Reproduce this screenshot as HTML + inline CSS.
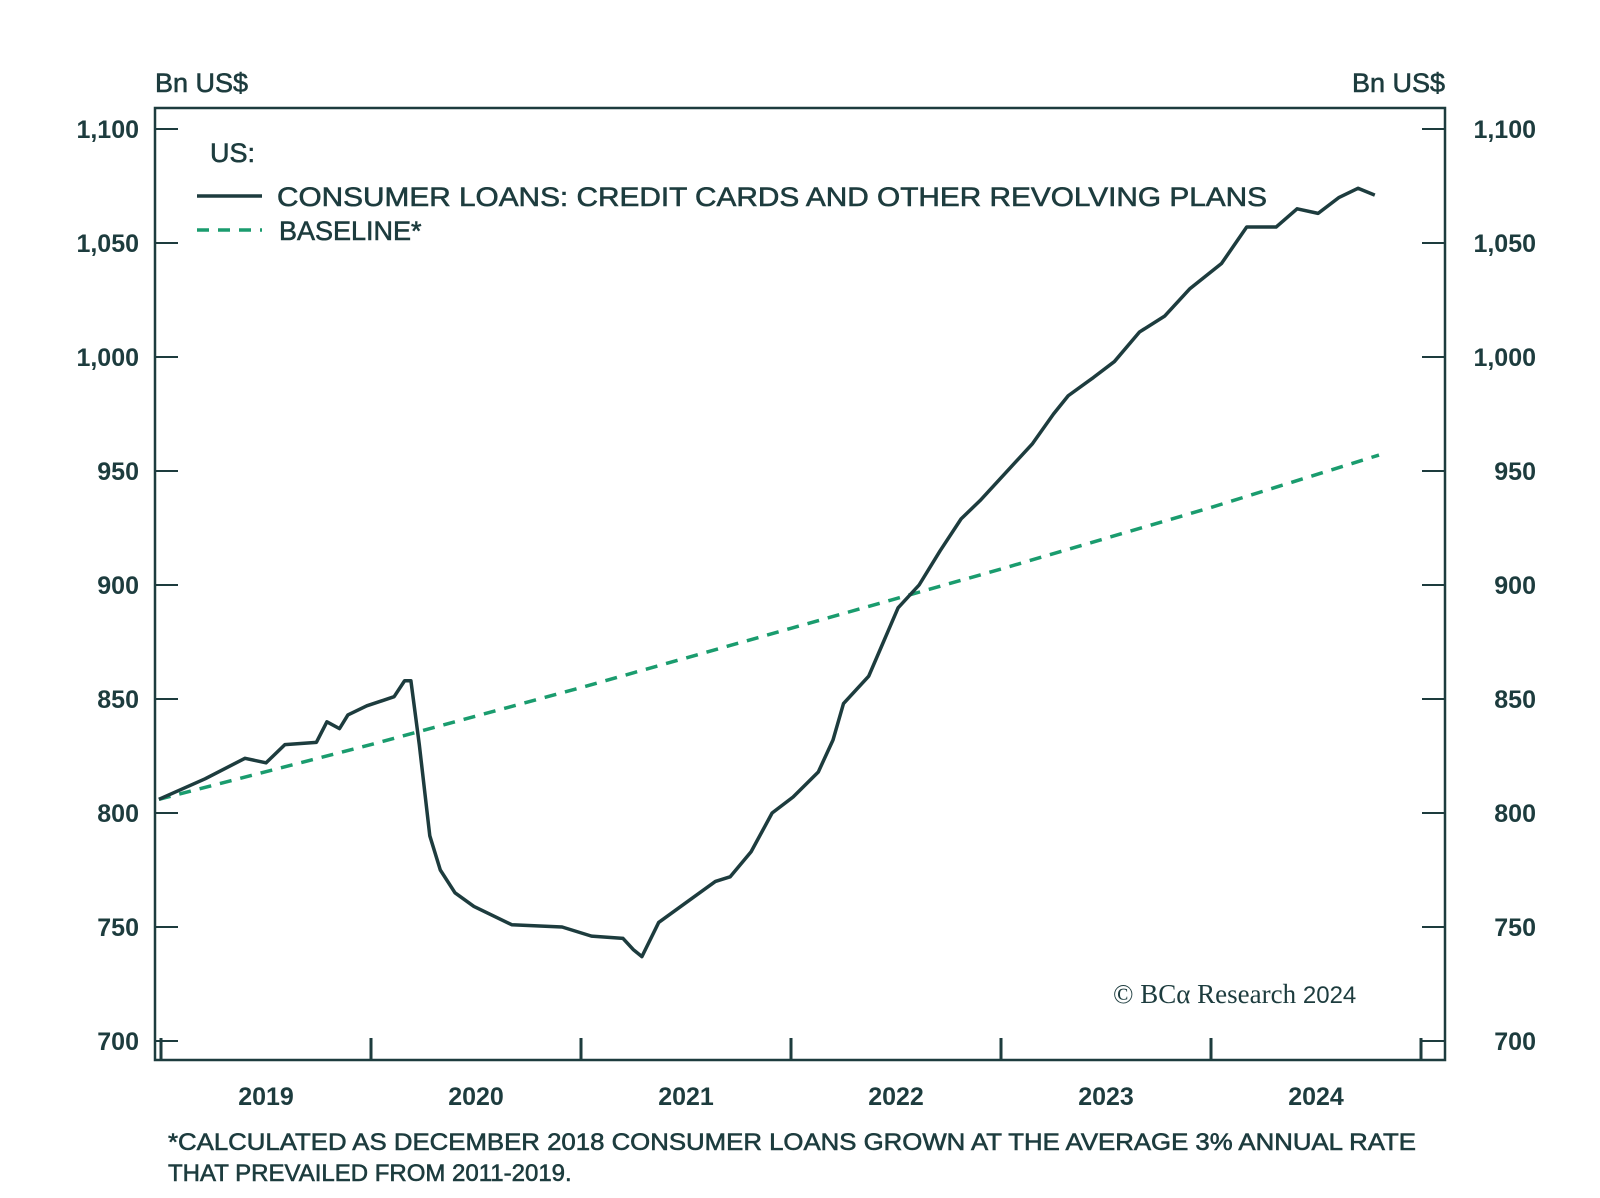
<!DOCTYPE html>
<html><head><meta charset="utf-8"><style>
html,body{margin:0;padding:0;background:#fff;}
svg{display:block;font-family:"Liberation Sans",sans-serif;}
.med{stroke:#1d3c3e;stroke-width:0.6;}
</style></head><body>
<svg id="chart" width="1600" height="1198" viewBox="0 0 1600 1198">
<g id="axes"></g>
<g id="series"></g>
<g>
<text class="med" x="210" y="162" font-size="27" fill="#1d3c3e">US:</text>
<line x1="197" y1="196" x2="262" y2="196" stroke="#1d3c3e" stroke-width="3.5"/>
<text class="med" x="277" y="206" font-size="27" fill="#1d3c3e" textLength="990" lengthAdjust="spacingAndGlyphs">CONSUMER LOANS: CREDIT CARDS AND OTHER REVOLVING PLANS</text>
<line x1="197" y1="230" x2="262" y2="230" stroke="#1a9c6e" stroke-width="3.5" stroke-dasharray="12,9"/>
<text class="med" x="279" y="240" font-size="27" fill="#1d3c3e">BASELINE*</text>
</g>
<text class="med" x="155" y="92" font-size="27" fill="#1d3c3e">Bn US$</text>
<text class="med" x="1445" y="92" font-size="27" fill="#1d3c3e" text-anchor="end">Bn US$</text>
<text x="1113" y="1003" font-size="27" fill="#1d3c3e" font-family="Liberation Serif, serif">© BCα Research <tspan font-family="Liberation Sans, sans-serif" font-size="24">2024</tspan></text>
<text class="med" x="168" y="1150" font-size="24" fill="#1d3c3e" textLength="1248" lengthAdjust="spacingAndGlyphs">*CALCULATED AS DECEMBER 2018 CONSUMER LOANS GROWN AT THE AVERAGE 3% ANNUAL RATE</text>
<text class="med" x="168" y="1181" font-size="24" fill="#1d3c3e">THAT PREVAILED FROM 2011-2019.</text>
</svg>
<script>
const yTicks=[700,750,800,850,900,950,1000,1050,1100];
const yTickLabels=["700","750","800","850","900","950","1,000","1,050","1,100"];
const years=[2019,2020,2021,2022,2023,2024];
const loanDates=[2018.99,2019.21,2019.40,2019.50,2019.59,2019.74,2019.79,2019.85,2019.89,2019.98,2020.11,2020.16,2020.19,2020.23,2020.28,2020.33,2020.40,2020.49,2020.67,2020.91,2021.05,2021.20,2021.25,2021.29,2021.37,2021.49,2021.64,2021.71,2021.81,2021.91,2022.01,2022.13,2022.20,2022.25,2022.37,2022.44,2022.51,2022.61,2022.71,2022.81,2022.90,2023.05,2023.15,2023.25,2023.32,2023.44,2023.54,2023.66,2023.78,2023.90,2024.05,2024.17,2024.31,2024.41,2024.51,2024.61,2024.70,2024.78];
const loanValues=[806,815,824,822,830,831,840,837,843,847,851,858,858,830,790,775,765,759,751,750,746,745,740,737,752,760,770,772,783,800,807,818,832,848,860,875,890,900,915,929,937,952,962,975,983,991,998,1011,1018,1030,1041,1057,1057,1065,1063,1070,1074,1071];
const baseDates=[2018.99,2020,2021,2022,2023,2024,2024.8];
const baseValues=[806,830,855,881,907,934,957];

const L=155,R=1445,T=108,B=1060;
const xS=d=>161+(d-2019)*210;
const yS=v=>129+(1100-v)*2.28;
const NS="http://www.w3.org/2000/svg";
const ax=document.getElementById('axes'), se=document.getElementById('series');
function mk(tag,attrs,parent){const e=document.createElementNS(NS,tag);for(const k in attrs)e.setAttribute(k,attrs[k]);parent.appendChild(e);return e;}
const C="#1d3c3e";
const fr=mk('rect',{x:L,y:T,width:R-L,height:B-T,fill:'none',stroke:C,'stroke-width':2.5},ax);


yTicks.forEach((v,i)=>{
  const y=yS(v);
  const t1=mk('line',{x1:L,x2:L+23,y1:y,y2:y,stroke:C,'stroke-width':2},ax);
  
  
  const t2=mk('line',{x1:R-23,x2:R,y1:y,y2:y,stroke:C,'stroke-width':2},ax);
  
  
  const a=mk('text',{x:139,y:y+9,'font-size':25,'font-weight':'bold','text-anchor':'end',fill:C},ax);
  a.textContent=yTickLabels[i];
  
  
  const b=mk('text',{x:1536,y:y+9,'font-size':25,'font-weight':'bold','text-anchor':'end',fill:C},ax);
  b.textContent=yTickLabels[i];
  
  
});
years.concat([2025]).forEach(yr=>{
  const x=xS(yr);
  const t=mk('line',{x1:x,x2:x,y1:B-22,y2:B,stroke:C,'stroke-width':3},ax);
  
  
});
years.forEach(yr=>{
  const t=mk('text',{x:xS(yr+0.5),y:1105,'font-size':25,'font-weight':'bold','text-anchor':'middle',fill:C},ax);
  t.textContent=String(yr);
  
  
});
const bp=mk('polyline',{points:baseDates.map((d,i)=>xS(d)+','+yS(baseValues[i])).join(' '),fill:'none',stroke:'#1a9c6e','stroke-width':3.5,'stroke-dasharray':'12,9'},se);


const lp=mk('polyline',{points:loanDates.map((d,i)=>xS(d)+','+yS(loanValues[i])).join(' '),fill:'none',stroke:C,'stroke-width':3.5,'stroke-linejoin':'round'},se);


</script>
</body></html>
